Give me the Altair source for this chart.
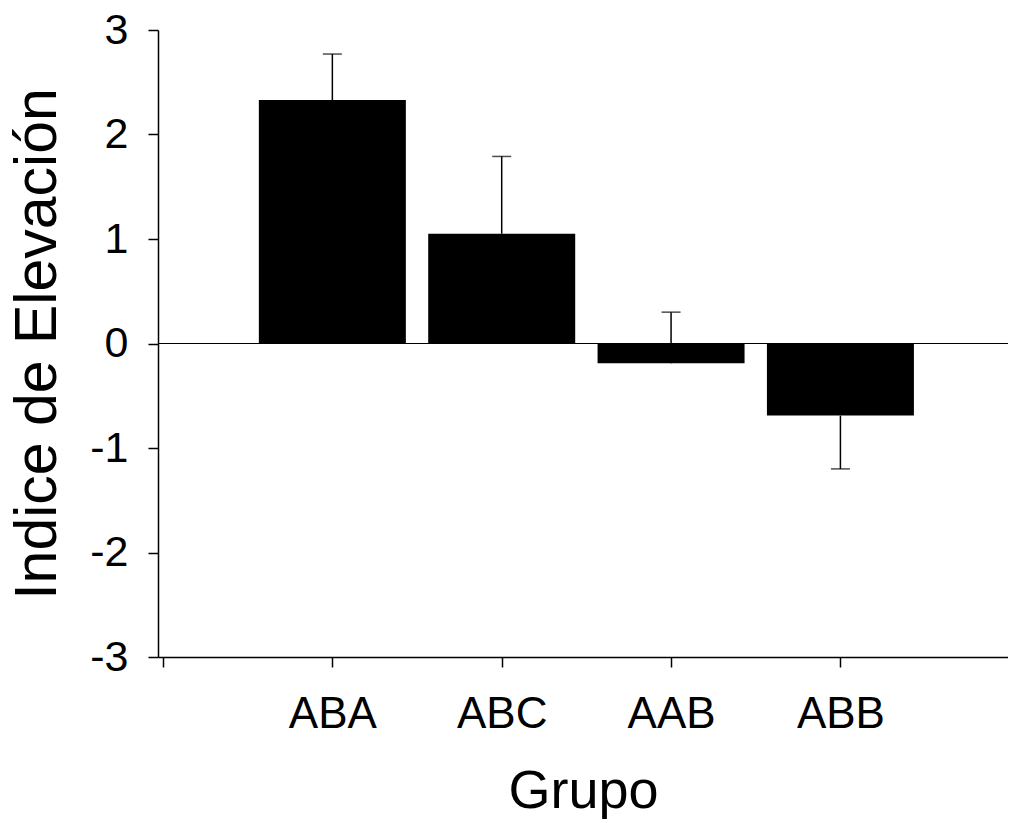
import altair as alt
import pandas as pd

grupos = ["ABA", "ABC", "AAB", "ABB"]
posiciones = [1, 2, 3, 4]
medias = [2.33, 1.05, -0.19, -0.69]
extremos = [2.77, 1.79, 0.30, -1.20]

df = pd.DataFrame({"grupo": grupos, "pos": posiciones, "media": medias, "extremo": extremos})

FONT = "Arial, Liberation Sans, sans-serif"
W, H = 850, 627

label_expr = " : ".join(
    [f"datum.value == {p} ? '{g}'" for p, g in zip(posiciones, grupos)]
) + " : ''"

xscale = alt.Scale(domain=[0, 4.96], nice=False, zero=False)
yscale = alt.Scale(domain=[-3, 3], nice=False)

xaxis = alt.Axis(
    values=[0] + posiciones, labelExpr=label_expr, title="Grupo",
    labelFontSize=44, titleFontSize=54, labelPadding=25, titlePadding=28,
    tickSize=10, grid=False, labelFlush=False, titleFontWeight="normal",
)
yaxis = alt.Axis(
    values=[-3, -2, -1, 0, 1, 2, 3], title="Indice de Elevación",
    labelExpr="toString(datum.value)",
    labelFontSize=43, titleFontSize=59, labelPadding=20, titlePadding=22,
    tickSize=10, grid=False, titleFontWeight="normal",
)

base = alt.Chart(df)

err = base.mark_rule(color="black", strokeWidth=1.5).encode(
    x=alt.X("pos:Q", scale=xscale, axis=xaxis),
    y=alt.Y("media:Q", scale=yscale, axis=yaxis),
    y2="extremo:Q",
)
caps = base.mark_tick(orient="horizontal", size=19, thickness=1.5, color="black").encode(
    x=alt.X("pos:Q", scale=xscale),
    y=alt.Y("extremo:Q", scale=yscale),
)
bars = base.mark_bar(size=147, color="black", orient="vertical").encode(
    x=alt.X("pos:Q", scale=xscale),
    y=alt.Y("media:Q", scale=yscale),
    y2=alt.datum(0),
)
zero = alt.Chart(pd.DataFrame({"v": [0]})).mark_rule(color="black", strokeWidth=1).encode(
    y=alt.Y("v:Q", scale=yscale),
    x=alt.value(0), x2=alt.value(W),
)

chart = alt.layer(err, caps, bars, zero).properties(
    width=W, height=H,
    background="white",
    autosize=alt.AutoSizeParams(type="none"),
    padding={"left": 150, "top": 22, "right": 0, "bottom": 162},
).configure_view(stroke=None).configure_axis(
    labelFont=FONT, titleFont=FONT, labelColor="black", titleColor="black",
    domainColor="black", tickColor="black", domainWidth=1.5, tickWidth=1.5,
    titleFontWeight="normal",
)

chart.save("out.html", embed_options={"renderer": "svg", "actions": False})
